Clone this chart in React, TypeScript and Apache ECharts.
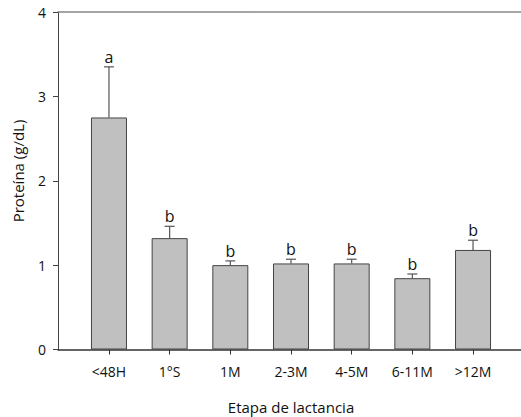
import React, { useEffect, useRef } from "react";
import * as echarts from "echarts";

const categories = ["<48H", "1°S", "1M", "2-3M", "4-5M", "6-11M", ">12M"];
const means = [2.75, 1.32, 1.0, 1.02, 1.02, 0.845, 1.18];
const errorTops = [3.35, 1.46, 1.05, 1.07, 1.07, 0.895, 1.295];
const letters = ["a", "b", "b", "b", "b", "b", "b"];
const yTicks = [0, 1, 2, 3, 4];

const FONT = "Open Sans";

export default function App() {
  const ref = useRef<HTMLDivElement>(null);
  useEffect(() => {
    if (!ref.current) return;
    const chart = echarts.init(ref.current, null, { renderer: "svg" });
    const positions = categories.map((_, i) => i + 1);
    chart.setOption({
      animation: false,
      backgroundColor: "#ffffff",
      grid: { left: 58, top: 12, width: 466, bottom: 67.5, containLabel: false },
      xAxis: [
        {
          type: "value",
          min: 0.16,
          max: 7.84,
          position: "bottom",
          splitLine: { show: false },
          axisLine: { show: true, onZero: false, lineStyle: { color: "#333333", width: 1.5 } },
          axisTick: {
            show: true,
            customValues: positions,
            length: 5,
            inside: false,
            lineStyle: { color: "#333333", width: 1 },
          },
          axisLabel: {
            show: true,
            customValues: positions,
            margin: 15,
            fontFamily: FONT,
            fontSize: 14,
            color: "#111111",
            formatter: (v: number) => categories[Math.round(v) - 1] ?? "",
          },
        },
        {
          type: "value",
          min: 0.16,
          max: 7.84,
          position: "top",
          splitLine: { show: false },
          axisLine: { show: true, onZero: false, lineStyle: { color: "#888888", width: 1.5 } },
          axisTick: { show: false },
          axisLabel: { show: false },
        },
      ],
      yAxis: {
        type: "value",
        min: 0,
        max: 4,
        interval: 1,
        splitLine: { show: false },
        axisLine: { show: true, lineStyle: { color: "#444444", width: 1 } },
        axisTick: { show: true, length: 5, inside: false, lineStyle: { color: "#444444" } },
        axisLabel: {
          margin: 12,
          fontFamily: FONT,
          fontSize: 14,
          color: "#111111",
          customValues: yTicks,
        },
      },
      graphic: [
        {
          type: "text",
          x: 291,
          y: 407,
          style: {
            text: "Etapa de lactancia",
            fontFamily: FONT,
            fontSize: 15,
            fill: "#111111",
            align: "center",
            verticalAlign: "middle",
          },
        },
        {
          type: "text",
          x: 18,
          y: 171,
          rotation: Math.PI / 2,
          style: {
            text: "Proteína (g/dL)",
            fontFamily: FONT,
            fontSize: 15,
            fill: "#111111",
            align: "center",
            verticalAlign: "middle",
          },
        },
      ],
      series: [
        {
          type: "bar",
          xAxisIndex: 0,
          data: means.map((m, i) => [i + 1, m]),
          barWidth: 36,
          itemStyle: { color: "#c0c0c0", borderColor: "#444444", borderWidth: 1 },
          z: 2,
        },
        {
          type: "custom",
          xAxisIndex: 0,
          data: means.map((m, i) => [i + 1, m, errorTops[i]]),
          z: 3,
          renderItem: (params: any, api: any) => {
            const x = api.value(0);
            const p0 = api.coord([x, api.value(1)]);
            const p1 = api.coord([x, api.value(2)]);
            const cap = 5;
            return {
              type: "group",
              children: [
                {
                  type: "line",
                  shape: { x1: p0[0], y1: p0[1], x2: p1[0], y2: p1[1] },
                  style: { stroke: "#555555", lineWidth: 1.2 },
                },
                {
                  type: "line",
                  shape: { x1: p1[0] - cap, y1: p1[1], x2: p1[0] + cap, y2: p1[1] },
                  style: { stroke: "#555555", lineWidth: 1.2 },
                },
                {
                  type: "text",
                  x: p1[0],
                  y: p1[1] - 2,
                  style: {
                    text: letters[params.dataIndex],
                    fontFamily: FONT,
                    fontSize: 16,
                    fill: "#111111",
                    align: "center",
                    verticalAlign: "bottom",
                  },
                },
              ],
            };
          },
        },
      ],
    });
    return () => chart.dispose();
  }, []);
  return (
    <div style={{ position: "absolute", left: 0, top: 0, width: 521, height: 417, overflow: "hidden", background: "#fff" }}>
      <div ref={ref} style={{ width: 560, height: 417 }} />
    </div>
  );
}
